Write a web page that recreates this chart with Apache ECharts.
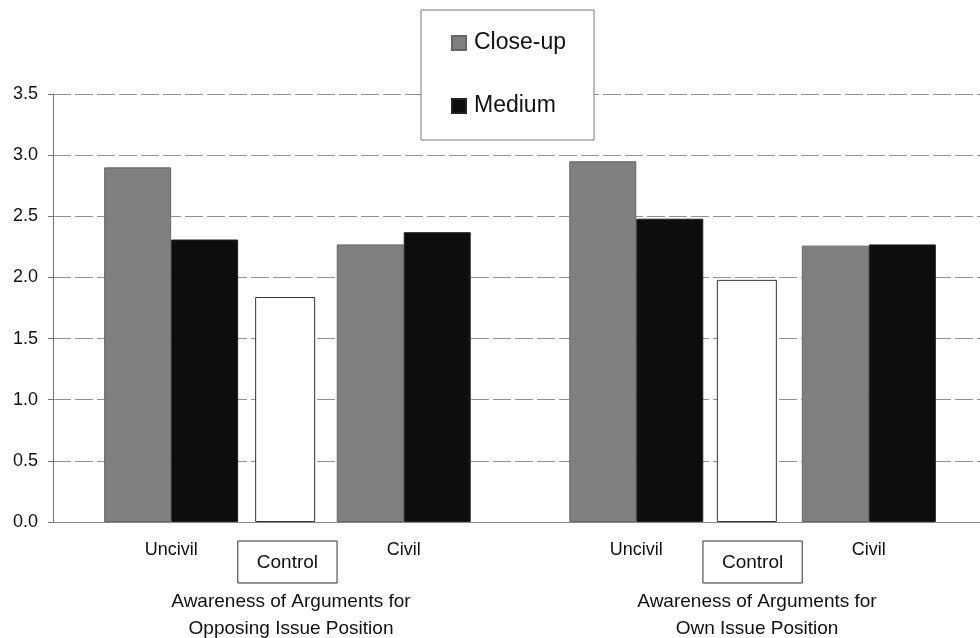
<!DOCTYPE html>
<html>
<head>
<meta charset="utf-8">
<script src="https://cdn.jsdelivr.net/npm/echarts@6/dist/echarts.min.js"></script>
<style>
  html, body { margin: 0; padding: 0; background: #fff; }
  #chart { width: 980px; height: 638px; }
</style>
</head>
<body>
<div id="chart"></div>
<script>
// data
var groups = ["Awareness of Arguments for\nOpposing Issue Position", "Awareness of Arguments for\nOwn Issue Position"];
var conditions = ["Uncivil", "Control", "Civil", "", "Uncivil", "Control", "Civil"];
var closeUp = [2.90, null, 2.27, null, 2.95, null, 2.26];
var medium = [2.31, null, 2.37, null, 2.48, null, 2.27];
var control = [null, 1.84, null, null, null, 1.98, null];
var yMin = 0, yMax = 3.5, yStep = 0.5;

var font = "Liberation Sans";
var chart = echarts.init(document.getElementById("chart"));

function hiddenY(idx) {
  return {
    type: "value", gridIndex: idx, min: yMin, max: yMax, interval: yStep,
    show: false, splitLine: { show: false }
  };
}

chart.setOption({
  backgroundColor: "#fff",
  animation: false,
  textStyle: { fontFamily: font },
  legend: {
    data: ["Close-up", "Medium"],
    orient: "vertical",
    left: 421,
    top: 10,
    padding: [20, 28, 21, 30],
    itemGap: 37,
    itemWidth: 14,
    itemHeight: 14,
    icon: "rect",
    backgroundColor: "#fff",
    borderColor: "#777",
    borderWidth: 1,
    borderRadius: 0,
    textStyle: { fontSize: 23, lineHeight: 26, color: "#111", fontFamily: font, padding: [0, 0, 0, 3] }
  },
  grid: [
    { left: 53, right: -5, top: 94, bottom: 116, outerBoundsMode: "none", containLabel: false },
    { left: 113, right: 53, top: 94, bottom: 116, outerBoundsMode: "none", containLabel: false },
    { left: 112, right: 60, top: 94, bottom: 116, outerBoundsMode: "none", containLabel: false }
  ],
  xAxis: [
    {
      type: "category",
      gridIndex: 0,
      data: groups,
      axisLine: { lineStyle: { color: "#888", width: 1 } },
      axisTick: { alignWithLabel: true, length: 6, lineStyle: { color: "#666" } },
      axisLabel: {
        margin: 66,
        fontSize: 19,
        lineHeight: 27,
        color: "#111",
        padding: [0, 0, 0, 10]
      },
      splitLine: { show: false }
    },
    {
      type: "category",
      gridIndex: 1,
      data: conditions,
      axisLine: { show: false },
      axisTick: { show: false },
      axisLabel: {
        interval: 0,
        margin: 19,
        formatter: function (v) {
          return v === "Control" ? "{ctl|" + v + "}" : "{c|" + v + "}";
        },
        rich: {
          c: { fontSize: 18, color: "#111", fontFamily: font },
          ctl: {
            fontSize: 19, color: "#111", fontFamily: font,
            borderColor: "#333", borderWidth: 1,
            padding: [12, 19, 11, 19]
          }
        }
      },
      splitLine: { show: false }
    },
    {
      type: "category",
      gridIndex: 2,
      data: conditions,
      show: false
    }
  ],
  yAxis: [
    {
      type: "value",
      gridIndex: 0,
      min: yMin,
      max: yMax,
      interval: yStep,
      axisLine: { show: true, lineStyle: { color: "#777" } },
      axisTick: { show: true, length: 5, lineStyle: { color: "#777" } },
      axisLabel: {
        fontSize: 18,
        color: "#111",
        margin: 15,
        formatter: function (v) { return v.toFixed(1); }
      },
      splitLine: { lineStyle: { color: "#929292", width: 1, type: [18, 4] } }
    },
    hiddenY(1),
    hiddenY(2)
  ],
  series: [
    {
      name: "Close-up",
      type: "bar",
      xAxisIndex: 1,
      yAxisIndex: 1,
      data: closeUp,
      clip: false,
      barWidth: 67,
      barGap: "0%",
      itemStyle: { color: "#7f7f7f", borderColor: "#666", borderWidth: 1 }
    },
    {
      name: "Medium",
      type: "bar",
      xAxisIndex: 1,
      yAxisIndex: 1,
      data: medium,
      clip: false,
      barWidth: 67,
      barGap: "0%",
      itemStyle: { color: "#0d0d0d", borderColor: "#222", borderWidth: 1 }
    },
    {
      name: "Control",
      type: "bar",
      xAxisIndex: 2,
      yAxisIndex: 2,
      data: control,
      clip: false,
      barWidth: 60,
      itemStyle: { color: "#fff", borderColor: "#333", borderWidth: 1 }
    }
  ]
});
</script>
</body>
</html>
